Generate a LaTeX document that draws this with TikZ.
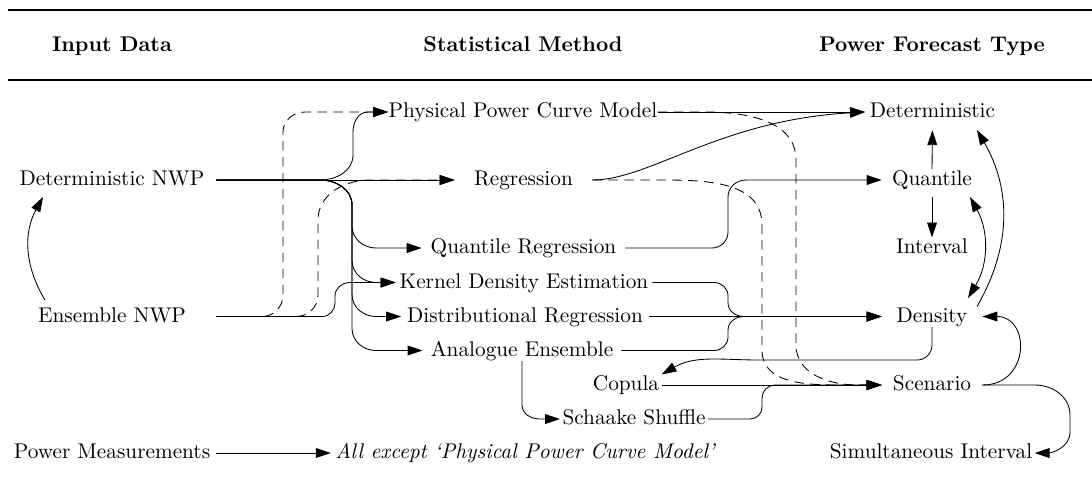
\documentclass[tikz,border=0pt]{standalone}
\usepackage{tikz}
\usetikzlibrary{arrows.meta, positioning}
\tikzset{
x=0.47pt, y=0.47pt, % one unit is one pixel of the sketch
>={Triangle[length=7pt,width=4.6pt]}, % filled arrow heads
every node/.style={inner xsep=0pt, inner ysep=1pt, text height=1.5ex, text depth=.25ex}, % same height for every label
head/.style={font=\bfseries}, % column titles
leftcol/.style={minimum width=97.8pt}, % input data column
rightcol/.style={minimum width=47pt}, % forecast type column
flow/.style={->}, % solid connectors
alt/.style={->, dash pattern=on 4.5pt off 3pt}, % dashed connectors
}

\begin{document}
\begin{tikzpicture}
\useasboundingbox (0,0) rectangle (1092,-481);

\draw[line width=1.1pt] (8,-10) -- (1092,-10);
\draw[line width=0.8pt] (8,-80) -- (1092,-80);
\node[head] (hin) at (112,-46) {Input Data};
\node[head] (hmeth) at (523,-46) {Statistical Method};
\node[head] (hout) at (932,-46) {Power Forecast Type};

% input data
\node[leftcol] (detnwp) at (112,-180) {Deterministic NWP};
\node[leftcol] (ensnwp) at (112,-316.5) {Ensemble NWP};
\node[leftcol] (meas) at (112,-453) {Power Measurements};

% statistical methods
\node[minimum width=126.4pt] (ppc) at (523,-112) {Physical Power Curve Model};
\node[minimum width=64.4pt] (reg) at (523.5,-180) {Regression};
\node[minimum width=95.4pt] (qreg) at (523.5,-248) {Quantile Regression};
\node[minimum width=120.3pt] (kde) at (524,-282.5) {Kernel Density Estimation};
\node[minimum width=116.1pt] (dreg) at (525,-316.5) {Distributional Regression};
\node[minimum width=93.1pt] (anen) at (522,-350.5) {Analogue Ensemble};
\node[inner xsep=1pt] (cop) at (626,-385) {Copula};
\node[inner xsep=1pt] (schaake) at (634,-419) {Schaake Shuffle};
\node[inner xsep=2pt] (allbut) at (525,-453) {\itshape All except ‘Physical Power Curve Model’};

% forecast types
\node[minimum width=63pt] (det) at (932.5,-112) {Deterministic};
\node[rightcol] (quant) at (932,-180) {Quantile};
\node (intv) at (932,-248) {Interval};
\node[rightcol] (dens) at (932,-316.5) {Density};
\node[rightcol] (scen) at (932,-385) {Scenario};
\node[inner xsep=1pt] (simint) at (931,-453) {Simultaneous Interval};

% from the inputs
\draw[flow] (detnwp.east) -- (reg.west);
\draw[flow] (detnwp.east) -- (320,-180) to[out=0,in=-90] (353,-155) -- (353,-132) to[out=90,in=180] (368,-112) -- (ppc.west);
\foreach \m/\y in {qreg/-248, kde/-282.5, dreg/-316.5, anen/-350.5}
  \draw[flow] (detnwp.east) -- (320,-180) to[out=0,in=90] (352,-205) -- (352,{\y+22}) to[out=-90,in=180] (376,\y) -- (\m.west);
\draw[flow] (ensnwp.east) -- (322,-316.5) to[out=0,in=-90] (335,-303) -- (335,-296) to[out=90,in=180] (350,-282.5) -- (kde.west);
\draw[alt] (ensnwp.east) -- (262,-316.5) to[out=0,in=-90] (283,-295) -- (283,-132) to[out=90,in=180] (305,-112) -- (ppc.west);
\draw[alt] (ensnwp.east) -- (296,-316.5) to[out=0,in=-90] (318,-295) -- (318,-220) to[out=90,in=180] (370,-180) -- (reg.west);
\draw[flow] ([shift={(-67,16.5)}]ensnwp.center) to[bend left=30] ([shift={(-69,-17)}]detnwp.center);
\draw[flow] (meas.east) -- (allbut.west);

% from the methods
\draw[flow] (ppc.east) -- (det.west);
\draw[alt] (ppc.east) -- (705,-112) to[out=0,in=90] (796,-160) -- (796,-345) to[out=-90,in=180] (858,-385) -- (scen.west);
\draw[flow] (reg.east) .. controls (650,-180) and (720,-120) .. (det.west);
\draw[alt] (reg.east) -- (650,-180) to[out=0,in=90] (762,-225) -- (762,-350) to[out=-90,in=180] (845,-385) -- (scen.west);
\draw[flow] (qreg.east) -- (712,-248) to[out=0,in=-90] (728,-232) -- (728,-197) to[out=90,in=180] (746,-180) -- (quant.west);
\draw[flow] (kde.east) -- (714,-282.5) to[out=0,in=90] (728,-296) -- (728,-303) to[out=-90,in=180] (744,-316.5) -- (dens.west);
\draw[flow] (dreg.east) -- (dens.west);
\draw[flow] (anen.east) -- (714,-350.5) to[out=0,in=-90] (728,-337) -- (728,-330) to[out=90,in=180] (744,-316.5) -- (dens.west);
\draw[flow] (anen.south) -- (522,-405) to[out=-90,in=180] (540,-419) -- (schaake.west);
\draw[flow] (cop.east) -- (scen.west);
\draw[flow] (schaake.east) -- (750,-419) to[out=0,in=-90] (762,-407) -- (762,-398) to[out=90,in=180] (775,-385) -- (scen.west);

% between the forecast types
\draw[flow, shorten >=3.6pt] (quant.north) -- (det.south);
\draw[flow, shorten <=3.2pt] (quant.south) -- (intv.north);
\draw[<->] ([shift={(38,-17)}]quant.center) to[bend left=30] ([shift={(36,18.5)}]dens.center);
\draw[flow] ([shift={(45,10)}]dens.center) to[bend right=30] ([shift={(44.5,-18)}]det.center);
\draw[flow] (scen.east) to[out=0,in=0,looseness=1.8] (dens.east);
\draw[flow] (dens.south) -- (932,-345) to[out=-90,in=0] (917,-360) -- (760,-360) to[out=180,in=30] (cop.north east);
\draw[flow] (scen.east) -- (1035,-385) to[out=0,in=90] (1070,-415) -- (1070,-432) to[out=-90,in=0] (simint.east);
\end{tikzpicture}
\end{document}
